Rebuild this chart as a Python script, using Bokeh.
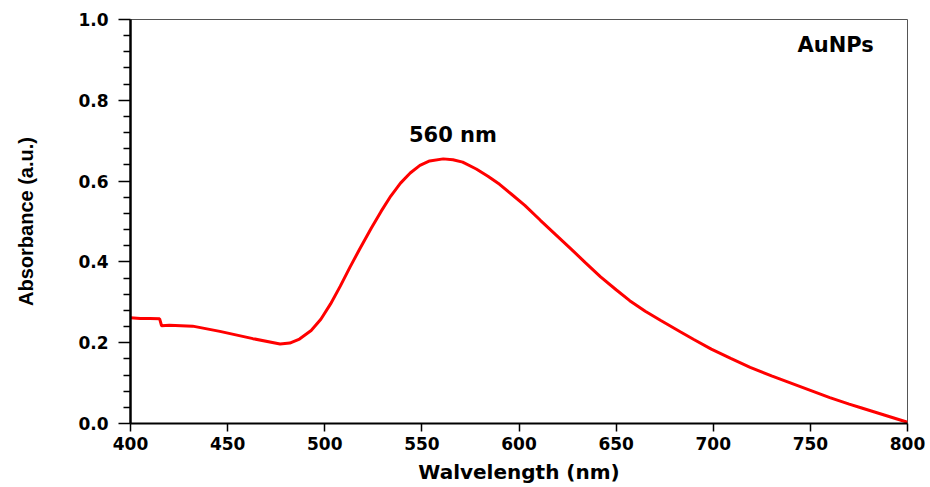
from bokeh.plotting import figure
from bokeh.models import Label, FixedTicker, PrintfTickFormatter
from bokeh.embed import file_html
from bokeh.resources import INLINE

# Data
wavelength = [400, 405, 410, 415, 416, 420, 432, 446, 463, 477, 482, 487, 493,
              498, 503, 508, 513, 518, 524, 529, 534, 539, 544, 549, 554, 561,
              566, 571, 578, 584, 590, 596, 603, 611, 619, 627, 634, 642, 650,
              657, 665, 673, 683, 690, 699, 709, 719, 730, 740, 750, 760, 770,
              776, 788, 800]
absorbance = [0.262, 0.260, 0.260, 0.259, 0.242, 0.243, 0.241, 0.228, 0.210,
              0.197, 0.199, 0.209, 0.230, 0.258, 0.296, 0.340, 0.387, 0.432,
              0.484, 0.525, 0.563, 0.595, 0.620, 0.639, 0.650, 0.655, 0.653,
              0.647, 0.630, 0.612, 0.592, 0.568, 0.540, 0.503, 0.467, 0.431,
              0.399, 0.363, 0.331, 0.304, 0.278, 0.255, 0.227, 0.208, 0.184,
              0.161, 0.139, 0.118, 0.100, 0.082, 0.064, 0.048, 0.039, 0.021,
              0.003]

x_ticks = [400, 450, 500, 550, 600, 650, 700, 750, 800]
y_ticks = [0.0, 0.2, 0.4, 0.6, 0.8, 1.0]
y_minor_ticks = [0.04, 0.08, 0.12, 0.16, 0.24, 0.28, 0.32, 0.36, 0.44, 0.48,
                 0.52, 0.56, 0.64, 0.68, 0.72, 0.76, 0.84, 0.88, 0.92, 0.96]

x_title = "Walvelength (nm)"
y_title = "Absorbance (a.u.)"
peak_label = "560 nm"
sample_label = "AuNPs"

BOLD_FONT = "DejaVu Sans"

p = figure(width=930, height=487, x_range=(400, 800), y_range=(0, 1),
           output_backend="svg", toolbar_location=None,
           min_border_left=130, min_border_right=23,
           min_border_top=19, min_border_bottom=64)

p.background_fill_color = "white"
p.border_fill_color = "white"
p.outline_line_color = "#555555"
p.outline_line_width = 1
p.xgrid.grid_line_color = None
p.ygrid.grid_line_color = None

p.line(wavelength, absorbance, line_color="#ff0000", line_width=3)

# x axis
xa = p.xaxis[0]
xa.ticker = FixedTicker(ticks=x_ticks, minor_ticks=[])
xa.axis_line_color = "black"
xa.axis_line_width = 2
xa.major_tick_line_color = "black"
xa.major_tick_line_width = 1.5
xa.major_tick_out = 8
xa.major_tick_in = 0
xa.minor_tick_line_color = None
xa.major_label_text_font = BOLD_FONT
xa.major_label_text_font_style = "bold"
xa.major_label_text_font_size = "17px"
xa.major_label_text_color = "black"
xa.major_label_standoff = 5
xa.axis_label = x_title
xa.axis_label_text_font = BOLD_FONT
xa.axis_label_text_font_style = "bold"
xa.axis_label_text_font_size = "20px"
xa.axis_label_text_color = "black"
xa.axis_label_standoff = 7

# y axis
ya = p.yaxis[0]
ya.ticker = FixedTicker(ticks=y_ticks, minor_ticks=y_minor_ticks)
ya.formatter = PrintfTickFormatter(format="%.1f")
ya.axis_line_color = "black"
ya.axis_line_width = 2.5
ya.major_tick_line_color = "black"
ya.major_tick_line_width = 1.5
ya.major_tick_out = 12
ya.major_tick_in = 0
ya.minor_tick_line_color = "black"
ya.minor_tick_line_width = 1.5
ya.minor_tick_out = 7
ya.minor_tick_in = 0
ya.major_label_text_font = BOLD_FONT
ya.major_label_text_font_style = "bold"
ya.major_label_text_font_size = "17px"
ya.major_label_text_color = "black"
ya.major_label_standoff = 10
ya.axis_label = y_title
ya.axis_label_text_font = "Liberation Sans"
ya.axis_label_text_font_style = "bold"
ya.axis_label_text_font_size = "20px"
ya.axis_label_text_color = "black"
ya.axis_label_standoff = 38

p.add_layout(Label(x=566, y=0.713, text=peak_label, text_align="center",
                   text_baseline="alphabetic", text_font=BOLD_FONT,
                   text_font_style="bold", text_font_size="21px",
                   text_color="black"))

p.add_layout(Label(x=763, y=0.938, text=sample_label, text_align="center",
                   text_baseline="alphabetic", text_font=BOLD_FONT,
                   text_font_style="bold", text_font_size="21px",
                   text_color="black"))

open("out.html", "w").write(file_html(p, INLINE))
